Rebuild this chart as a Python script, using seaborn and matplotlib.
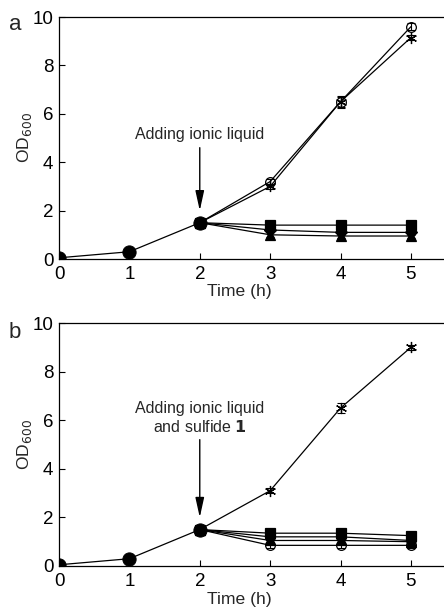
import matplotlib
matplotlib.use("Agg")
import matplotlib.pyplot as plt
import seaborn as sns
import pandas as pd

sns.set_theme(style="ticks")
plt.rcParams['font.family'] = ['Liberation Sans', 'DejaVu Sans']

# shared growth before addition
pre_t = [0, 1, 2]
pre_od = [0.05, 0.3, 1.5]

post_t = [2, 3, 4, 5]

# panel a series (from t = 2)
a_circle = [1.5, 3.2, 6.5, 9.6]
a_circle_err = [0.05, 0.1, 0.25, 0.15]
a_star = [1.5, 3.0, 6.5, 9.15]
a_star_err = [0.05, 0.1, 0.2, 0.1]
a_square = [1.5, 1.4, 1.4, 1.4]
a_diamond = [1.5, 1.2, 1.1, 1.1]
a_triangle = [1.5, 1.0, 0.95, 0.95]
a_low_err = [0.05, 0.1, 0.1, 0.1]

# panel b series (from t = 2)
b_star = [1.5, 3.1, 6.5, 9.0]
b_star_err = [0.05, 0.1, 0.2, 0.1]
b_square = [1.5, 1.35, 1.35, 1.25]
b_dot = [1.5, 1.2, 1.2, 1.05]
b_triangle = [1.5, 1.05, 1.05, 1.0]
b_circle = [1.5, 0.85, 0.85, 0.85]
b_low_err = [0.05, 0.1, 0.1, 0.1]

xticks = [0, 1, 2, 3, 4, 5]
yticks = [0, 2, 4, 6, 8, 10]

ASTER = (6, 2, 0)

fig = plt.figure(figsize=(4.44, 6.08), dpi=100)
axa = fig.add_axes([59/444, 1-259/608, 1-59/444, (259-17)/608])
axb = fig.add_axes([59/444, 1-566/608, 1-59/444, (566-323)/608])


def series(ax, t, y, err, marker, filled, ms):
    df = pd.DataFrame({"t": t, "y": y})
    ax.errorbar(t[1:], y[1:], yerr=err[1:], fmt='none', ecolor='black',
                elinewidth=0.8, capsize=3, capthick=0.8, zorder=2)
    kw = dict(markerfacecolor='black' if filled else 'none',
              markeredgecolor='black')
    sns.lineplot(data=df, x="t", y="y", ax=ax, color='black', lw=0.9,
                 marker=marker, markersize=ms, markeredgewidth=0.9, zorder=3,
                 **kw)


def base(ax):
    df = pd.DataFrame({"t": pre_t, "y": pre_od})
    sns.lineplot(data=df, x="t", y="y", ax=ax, color='black', lw=0.9,
                 marker='o', markersize=9.5, markerfacecolor='black',
                 markeredgecolor='black', zorder=5)
    for ln in ax.lines:
        ln.set_clip_on(True)
        ln.set_clip_path(ax.patch)


def style(ax):
    ax.set_xlim(0, 5.47)
    ax.set_ylim(0, 10)
    ax.set_xticks(xticks)
    ax.set_yticks(yticks)
    ax.tick_params(axis='both', direction='in', length=4, width=0.8,
                   labelsize=13.5, colors='black')
    ax.tick_params(axis='y', pad=4)
    ax.tick_params(axis='x', pad=5)
    ax.spines['right'].set_visible(False)
    for s in ['left', 'top', 'bottom']:
        ax.spines[s].set_linewidth(0.9)
        ax.spines[s].set_color('black')
    ax.set_xlabel('Time (h)', fontsize=12.6, va='top')
    ax.xaxis.set_label_coords(180/385, -0.105)
    ax.set_ylabel('OD$_{600}$', fontsize=12.6, va='center')
    ax.yaxis.set_label_coords(-34/385, 0.5)


ARROW = dict(arrowstyle='-|>,head_width=0.22,head_length=1.0',
             color='black', lw=1.0, shrinkA=0, shrinkB=0)

# panel a
series(axa, post_t, a_square, a_low_err, 's', True, 7)
series(axa, post_t, a_diamond, a_low_err, 'D', True, 6)
series(axa, post_t, a_triangle, a_low_err, '^', True, 7)
series(axa, post_t, a_circle, a_circle_err, 'o', False, 7)
series(axa, post_t, a_star, a_star_err, ASTER, False, 8)
base(axa)
style(axa)
axa.text(2, 5.15, 'Adding ionic liquid', ha='center', va='center', fontsize=11.5)
axa.annotate('', xy=(2, 2.0), xytext=(2, 4.6), arrowprops=ARROW)
fig.text(15/444, 1-25/608, 'a', fontsize=16, ha='center', va='center')

# panel b
series(axb, post_t, b_square, b_low_err, 's', True, 7)
series(axb, post_t, b_dot, b_low_err, 'o', True, 7)
series(axb, post_t, b_triangle, b_low_err, '^', True, 7)
series(axb, post_t, b_circle, b_low_err, 'o', False, 7)
series(axb, post_t, b_star, b_star_err, ASTER, False, 8)
base(axb)
style(axb)
axb.text(2, 6.5, 'Adding ionic liquid', ha='center', va='center', fontsize=11.5)
axb.text(2, 5.7, 'and sulfide $\\mathbf{1}$', ha='center', va='center', fontsize=11.5)
axb.annotate('', xy=(2, 2.0), xytext=(2, 5.2), arrowprops=ARROW)
fig.text(15/444, 1-333/608, 'b', fontsize=16, ha='center', va='center')

fig.savefig('out.png', dpi=100)
